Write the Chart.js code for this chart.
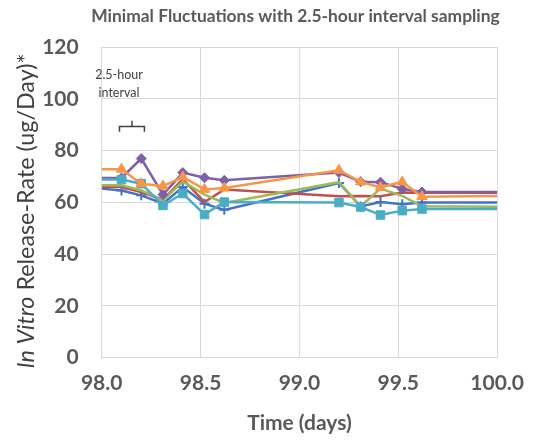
<!DOCTYPE html>
<html>
<head>
<meta charset="utf-8">
<script src="https://cdn.jsdelivr.net/npm/chart.js@4.4.1/dist/chart.umd.min.js"></script>
<style>
  html, body { margin: 0; padding: 0; background: #fff; }
  #wrap { width: 537px; height: 441px; }
</style>
</head>
<body>
<div id="wrap"><canvas id="releaseChart"></canvas></div>
<script>
// Sampling times (days); first and last are only the line ends
const times = [98.0, 98.1, 98.2, 98.31, 98.41, 98.52, 98.62, 99.2, 99.31, 99.41, 99.52, 99.62, 100.0];

const orangeVals = [72.8, 72.8, 67.2, 66.3, 69.8, 65.0, 65.5, 72.4, 67.9, 65.8, 67.9, 62.2, 62.5];
const purpleVals = [69.4, 69.4, 76.9, 63.0, 71.5, 69.5, 68.5, 71.5, 68.0, 67.8, 65.2, 64.0, 64.0];
const cyanVals   = [68.8, 68.8, 67.2, 58.8, 63.4, 55.3, 60.1, 59.9, 58.2, 55.1, 56.8, 57.4, 57.4];
const greenVals  = [66.6, 66.6, 64.6, 60.8, 68.0, 63.0, 59.8, 67.8, 58.5, 65.3, 62.5, 58.5, 58.3];
const redVals    = [65.9, 65.9, 64.0, 61.0, 69.0, 60.1, 65.0, 62.4, 62.5, 62.4, 63.8, 63.7, 63.7];
const blueVals   = [65.3, 64.6, 62.7, 59.5, 65.9, 59.5, 57.1, 67.5, 58.4, 60.1, 59.3, 59.9, 59.9];

const xTicks = [98.0, 98.5, 99.0, 99.5, 100.0];
const yTicks = [0, 20, 40, 60, 80, 100, 120];

function pts(vals) {
    return times.map((t, i) => ({ x: t, y: vals[i] }));
}

// no marker on the two line ends
function radii(r) {
    return times.map((t, i) => (i === 0 || i === times.length - 1) ? 0 : r);
}

function series(vals, color, style, r) {
    return {
        data: pts(vals),
        borderColor: color,
        backgroundColor: color,
        borderWidth: 2.5,
        pointStyle: style,
        pointRadius: radii(r),
        pointBorderWidth: style === "cross" ? 2 : 1,
        tension: 0
    };
}

// font size that makes a text fill a given width
function fitSize(c, text, style, width) {
    c.font = style + " 20px Lato";
    return 20 * width / c.measureText(text).width;
}

// extra texts: title, y title with italic part, bracket note
const extraText = {
    id: "extraText",
    afterDraw(chart) {
        const c = chart.ctx;
        const xs = chart.scales.x;
        const ys = chart.scales.y;
        c.save();

        const title = "Minimal Fluctuations with 2.5-hour interval sampling";
        const ts = fitSize(c, title, "bold", 409);
        c.fillStyle = "#595959";
        c.font = "bold " + ts + "px Lato";
        c.textAlign = "center";
        c.textBaseline = "middle";
        c.fillText(title, 295.5, 16);

        // y axis title
        const a = "In Vitro";
        const b = " Release-Rate (ug/Day)*";
        c.font = "italic 20px Lato";
        let wa = c.measureText(a).width;
        c.font = "20px Lato";
        let wb = c.measureText(b).width;
        const fs = 20 * 315 / (wa + wb);
        wa = wa * fs / 20;
        wb = wb * fs / 20;
        c.translate(26, 211);
        c.rotate(-Math.PI / 2);
        c.fillStyle = "#404040";
        c.textAlign = "left";
        const x0 = -(wa + wb) / 2;
        c.font = "italic " + fs + "px Lato";
        c.fillText(a, x0, 0);
        c.font = fs + "px Lato";
        c.fillText(b, x0 + wa, 0);
        c.restore();

        // 2.5-hour note and bracket
        c.save();
        c.fillStyle = "#404040";
        c.font = "12.5px Lato";
        c.textAlign = "center";
        c.textBaseline = "middle";
        c.fillText("2.5-hour", 119, 75);
        c.fillText("interval", 119, 93);
        const l = xs.getPixelForValue(98.09);
        const r = xs.getPixelForValue(98.216);
        const m = xs.getPixelForValue(98.153);
        const yb = ys.getPixelForValue(89.3);
        c.strokeStyle = "#404040";
        c.lineWidth = 1.5;
        c.beginPath();
        c.moveTo(l, ys.getPixelForValue(87.3));
        c.lineTo(l, yb);
        c.lineTo(r, yb);
        c.lineTo(r, ys.getPixelForValue(87.3));
        c.moveTo(m, yb);
        c.lineTo(m, ys.getPixelForValue(91.5));
        c.stroke();
        c.restore();
    }
};

const ctx = document.getElementById("releaseChart");

new Chart(ctx, {
    type: "line",
    data: {
        datasets: [
            series(orangeVals, "#F79646", "triangle", 6),
            series(cyanVals, "#4BACC6", "rect", 6),
            series(purpleVals, "#7F5FA8", "rectRot", 5),
            series(greenVals, "#9BBB59", "circle", 0),
            series(redVals, "#C0504D", "circle", 0),
            series(blueVals, "#4472C4", "cross", 5)
        ]
    },
    options: {
        responsive: true,
        maintainAspectRatio: false,
        animation: false,
        layout: {
            padding: { top: 47, right: 35, left: 0, bottom: 0 }
        },
        plugins: {
            legend: { display: false },
            tooltip: { enabled: false }
        },
        scales: {
            x: {
                type: "linear",
                min: 98,
                max: 100,
                afterBuildTicks(scale) {
                    scale.ticks = xTicks.map(v => ({ value: v }));
                },
                afterFit(scale) {
                    scale.height = 83.3;
                },
                grid: { color: "#d9d9d9", drawTicks: false },
                border: { color: "#d9d9d9" },
                ticks: {
                    padding: 13,
                    color: "#595959",
                    font: { family: "Lato", size: 21, weight: "bold" },
                    callback: v => v.toFixed(1)
                },
                title: {
                    display: true,
                    text: "Time (days)",
                    color: "#595959",
                    font: { family: "Lato", size: 21, weight: "bold" },
                    padding: { top: 4, bottom: 5 }
                }
            },
            y: {
                min: 0,
                max: 120,
                afterBuildTicks(scale) {
                    scale.ticks = yTicks.map(v => ({ value: v }));
                },
                afterFit(scale) {
                    scale.width = 101.7;
                },
                grid: { color: "#d9d9d9", drawTicks: false },
                border: { color: "#d9d9d9" },
                ticks: {
                    padding: 23,
                    color: "#595959",
                    font: { family: "Lato", size: 21, weight: "bold" }
                }
            }
        }
    },
    plugins: [extraText]
});
</script>
</body>
</html>
